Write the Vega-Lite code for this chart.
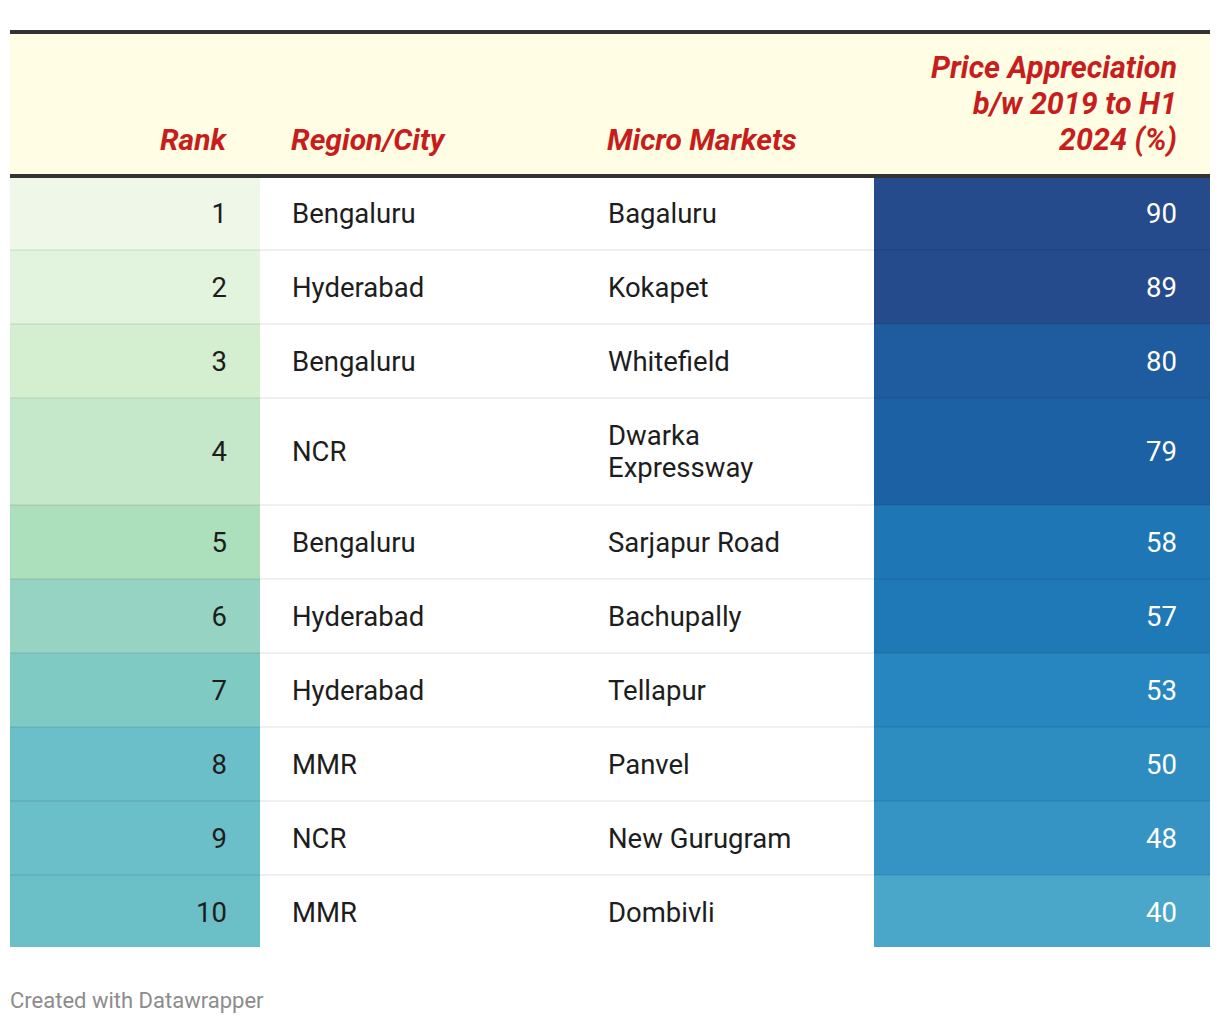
{
  "$schema": "https://vega.github.io/schema/vega-lite/v6.json",
  "background": "white",
  "padding": {"top": 30, "left": 8, "right": 8, "bottom": 10},
  "spacing": 0,
  "bounds": "flush",
  "title": {"text": "Created with Datawrapper", "orient": "bottom", "anchor": "start", "font": "Roboto", "fontSize": 22, "fontWeight": "normal", "color": "#8c8c8c", "offset": 44, "dx": 2},
  "config": {"view": {"stroke": null}, "concat": {"spacing": 0}},
  "datasets": {
    "rows": [
      {"rank": 1, "city": "Bengaluru", "market": "Bagaluru", "value": 90},
      {"rank": 2, "city": "Hyderabad", "market": "Kokapet", "value": 89},
      {"rank": 3, "city": "Bengaluru", "market": "Whitefield", "value": 80},
      {"rank": 4, "city": "NCR", "market": "Dwarka\nExpressway", "value": 79},
      {"rank": 5, "city": "Bengaluru", "market": "Sarjapur Road", "value": 58},
      {"rank": 6, "city": "Hyderabad", "market": "Bachupally", "value": 57},
      {"rank": 7, "city": "Hyderabad", "market": "Tellapur", "value": 53},
      {"rank": 8, "city": "MMR", "market": "Panvel", "value": 50},
      {"rank": 9, "city": "NCR", "market": "New Gurugram", "value": 48},
      {"rank": 10, "city": "MMR", "market": "Dombivli", "value": 40}
    ],
    "one": [{}]
  },
  "hconcat": [
    {
      "width": 250, "height": 915,
      "layer": [
        {"data": {"name": "one"}, "mark": {"type": "rect", "fill": "#fffee5"},
         "encoding": {"x": {"datum": 0, "type": "quantitative", "scale": {"domain": [0, 1], "nice": false}, "axis": null}, "x2": {"datum": 1},
                      "y": {"datum": -1.946, "type": "quantitative", "scale": {"domain": [-1.946, 10.42], "reverse": true, "nice": false, "zero": false}, "axis": null}, "y2": {"datum": 0}}},
        {"data": {"name": "rows"},
         "transform": [
           {"calculate": "length(split(datum.market, '\\n'))", "as": "nlines"},
           {"calculate": "1 + 0.446*(datum.nlines-1)", "as": "h"},
           {"window": [{"op": "sum", "field": "h", "as": "y1"}], "sort": [{"field": "rank"}], "frame": [null, 0]},
           {"calculate": "datum.y1 - datum.h", "as": "y0"},
           {"calculate": "min(datum.y1, 10.42)", "as": "y1c"},
           {"calculate": "datum.y1 - datum.h/2", "as": "ym"}
         ],
         "layer": [
           {"mark": {"type": "rect"},
            "encoding": {"x": {"datum": 0, "type": "quantitative"}, "x2": {"datum": 1},
                         "y": {"field": "y0", "type": "quantitative"}, "y2": {"field": "y1c"},
                         "fill": {"field": "rank", "type": "ordinal", "legend": null,
                                  "scale": {"domain": [1,2,3,4,5,6,7,8,9,10], "range": ["#eef7e8","#e2f4dd","#d4eed0","#c5e8ca","#acdfbb","#97d3c2","#7fcac3","#6bbfc8","#6bbfc8","#6bbfc7"]}}}},
           {"transform": [{"filter": "datum.rank < 10"}], "mark": {"type": "rule", "stroke": "#000", "strokeOpacity": 0.08, "strokeWidth": 1.5},
            "encoding": {"x": {"datum": 0, "type": "quantitative"}, "x2": {"datum": 1}, "y": {"field": "y1", "type": "quantitative"}}},
           {"mark": {"type": "text", "align": "right", "baseline": "middle", "dx": -33, "dy": 2, "font": "Roboto", "fontSize": 27.5, "color": "#1d1d1d"},
            "encoding": {"x": {"datum": 1, "type": "quantitative"}, "y": {"field": "ym", "type": "quantitative"}, "text": {"field": "rank", "type": "nominal"}}}
         ]},
        {"data": {"name": "one"}, "mark": {"type": "rule", "stroke": "#333333", "strokeWidth": 4},
         "encoding": {"x": {"datum": 0, "type": "quantitative"}, "x2": {"datum": 1}, "y": {"datum": -1.946, "type": "quantitative"}}},
        {"data": {"name": "one"}, "mark": {"type": "rule", "stroke": "#333333", "strokeWidth": 4},
         "encoding": {"x": {"datum": 0, "type": "quantitative"}, "x2": {"datum": 1}, "y": {"datum": 0, "type": "quantitative"}}},
        {"data": {"name": "one"}, "mark": {"type": "text", "text": "Rank", "align": "right", "baseline": "alphabetic", "dx": -34, "font": "Roboto", "fontSize": 30, "fontWeight": "bold", "fontStyle": "italic", "color": "#c71e1d"},
         "encoding": {"x": {"datum": 1, "type": "quantitative"}, "y": {"datum": -0.351, "type": "quantitative"}}}
      ]
    },
    {
      "width": 315, "height": 915,
      "layer": [
        {"data": {"name": "one"}, "mark": {"type": "rect", "fill": "#fffee5"},
         "encoding": {"x": {"datum": 0, "type": "quantitative", "scale": {"domain": [0, 1], "nice": false}, "axis": null}, "x2": {"datum": 1},
                      "y": {"datum": -1.946, "type": "quantitative", "scale": {"domain": [-1.946, 10.42], "reverse": true, "nice": false, "zero": false}, "axis": null}, "y2": {"datum": 0}}},
        {"data": {"name": "rows"},
         "transform": [
           {"calculate": "length(split(datum.market, '\\n'))", "as": "nlines"},
           {"calculate": "1 + 0.446*(datum.nlines-1)", "as": "h"},
           {"window": [{"op": "sum", "field": "h", "as": "y1"}], "sort": [{"field": "rank"}], "frame": [null, 0]},
           {"calculate": "datum.y1 - datum.h/2", "as": "ym"}
         ],
         "layer": [
           {"transform": [{"filter": "datum.rank < 10"}], "mark": {"type": "rule", "stroke": "#000", "strokeOpacity": 0.08, "strokeWidth": 1.5},
            "encoding": {"x": {"datum": 0, "type": "quantitative"}, "x2": {"datum": 1}, "y": {"field": "y1", "type": "quantitative"}}},
           {"mark": {"type": "text", "align": "left", "baseline": "middle", "dx": 32, "dy": 2, "font": "Roboto", "fontSize": 27.5, "color": "#1d1d1d"},
            "encoding": {"x": {"datum": 0, "type": "quantitative"}, "y": {"field": "ym", "type": "quantitative"}, "text": {"field": "city", "type": "nominal"}}}
         ]},
        {"data": {"name": "one"}, "mark": {"type": "rule", "stroke": "#333333", "strokeWidth": 4},
         "encoding": {"x": {"datum": 0, "type": "quantitative"}, "x2": {"datum": 1}, "y": {"datum": -1.946, "type": "quantitative"}}},
        {"data": {"name": "one"}, "mark": {"type": "rule", "stroke": "#333333", "strokeWidth": 4},
         "encoding": {"x": {"datum": 0, "type": "quantitative"}, "x2": {"datum": 1}, "y": {"datum": 0, "type": "quantitative"}}},
        {"data": {"name": "one"}, "mark": {"type": "text", "text": "Region/City", "align": "left", "baseline": "alphabetic", "dx": 31, "font": "Roboto", "fontSize": 30, "fontWeight": "bold", "fontStyle": "italic", "color": "#c71e1d"},
         "encoding": {"x": {"datum": 0, "type": "quantitative"}, "y": {"datum": -0.351, "type": "quantitative"}}}
      ]
    },
    {
      "width": 299, "height": 915,
      "layer": [
        {"data": {"name": "one"}, "mark": {"type": "rect", "fill": "#fffee5"},
         "encoding": {"x": {"datum": 0, "type": "quantitative", "scale": {"domain": [0, 1], "nice": false}, "axis": null}, "x2": {"datum": 1},
                      "y": {"datum": -1.946, "type": "quantitative", "scale": {"domain": [-1.946, 10.42], "reverse": true, "nice": false, "zero": false}, "axis": null}, "y2": {"datum": 0}}},
        {"data": {"name": "rows"},
         "transform": [
           {"calculate": "length(split(datum.market, '\\n'))", "as": "nlines"},
           {"calculate": "1 + 0.446*(datum.nlines-1)", "as": "h"},
           {"window": [{"op": "sum", "field": "h", "as": "y1"}], "sort": [{"field": "rank"}], "frame": [null, 0]},
           {"calculate": "datum.y1 - datum.h/2 - 0.216*(datum.nlines-1)", "as": "ytext"}
         ],
         "layer": [
           {"transform": [{"filter": "datum.rank < 10"}], "mark": {"type": "rule", "stroke": "#000", "strokeOpacity": 0.08, "strokeWidth": 1.5},
            "encoding": {"x": {"datum": 0, "type": "quantitative"}, "x2": {"datum": 1}, "y": {"field": "y1", "type": "quantitative"}}},
           {"mark": {"type": "text", "align": "left", "baseline": "middle", "dx": 33, "dy": 2, "font": "Roboto", "fontSize": 27.5, "lineHeight": 32, "lineBreak": "\n", "color": "#1d1d1d"},
            "encoding": {"x": {"datum": 0, "type": "quantitative"}, "y": {"field": "ytext", "type": "quantitative"}, "text": {"field": "market", "type": "nominal"}}}
         ]},
        {"data": {"name": "one"}, "mark": {"type": "rule", "stroke": "#333333", "strokeWidth": 4},
         "encoding": {"x": {"datum": 0, "type": "quantitative"}, "x2": {"datum": 1}, "y": {"datum": -1.946, "type": "quantitative"}}},
        {"data": {"name": "one"}, "mark": {"type": "rule", "stroke": "#333333", "strokeWidth": 4},
         "encoding": {"x": {"datum": 0, "type": "quantitative"}, "x2": {"datum": 1}, "y": {"datum": 0, "type": "quantitative"}}},
        {"data": {"name": "one"}, "mark": {"type": "text", "text": "Micro Markets", "align": "left", "baseline": "alphabetic", "dx": 32, "font": "Roboto", "fontSize": 30, "fontWeight": "bold", "fontStyle": "italic", "color": "#c71e1d"},
         "encoding": {"x": {"datum": 0, "type": "quantitative"}, "y": {"datum": -0.351, "type": "quantitative"}}}
      ]
    },
    {
      "width": 336, "height": 915,
      "layer": [
        {"data": {"name": "one"}, "mark": {"type": "rect", "fill": "#fffee5"},
         "encoding": {"x": {"datum": 0, "type": "quantitative", "scale": {"domain": [0, 1], "nice": false}, "axis": null}, "x2": {"datum": 1},
                      "y": {"datum": -1.946, "type": "quantitative", "scale": {"domain": [-1.946, 10.42], "reverse": true, "nice": false, "zero": false}, "axis": null}, "y2": {"datum": 0}}},
        {"data": {"name": "rows"},
         "transform": [
           {"calculate": "length(split(datum.market, '\\n'))", "as": "nlines"},
           {"calculate": "1 + 0.446*(datum.nlines-1)", "as": "h"},
           {"window": [{"op": "sum", "field": "h", "as": "y1"}], "sort": [{"field": "rank"}], "frame": [null, 0]},
           {"calculate": "datum.y1 - datum.h", "as": "y0"},
           {"calculate": "min(datum.y1, 10.42)", "as": "y1c"},
           {"calculate": "datum.y1 - datum.h/2", "as": "ym"}
         ],
         "layer": [
           {"mark": {"type": "rect"},
            "encoding": {"x": {"datum": 0, "type": "quantitative"}, "x2": {"datum": 1},
                         "y": {"field": "y0", "type": "quantitative"}, "y2": {"field": "y1c"},
                         "fill": {"field": "value", "type": "quantitative", "legend": null,
                                  "scale": {"type": "linear", "domain": [40,48,50,53,57,58,79,80,89,90], "range": ["#4ba7ca","#3594c3","#2d8dc1","#2785bf","#1f79b6","#1e76b4","#1b61a4","#1f5b9f","#264b8c","#264b8c"]}}}},
           {"transform": [{"filter": "datum.rank < 10"}], "mark": {"type": "rule", "stroke": "#000", "strokeOpacity": 0.08, "strokeWidth": 1.5},
            "encoding": {"x": {"datum": 0, "type": "quantitative"}, "x2": {"datum": 1}, "y": {"field": "y1", "type": "quantitative"}}},
           {"mark": {"type": "text", "align": "right", "baseline": "middle", "dx": -33, "dy": 2, "font": "Roboto", "fontSize": 27.5, "color": "#ffffff"},
            "encoding": {"x": {"datum": 1, "type": "quantitative"}, "y": {"field": "ym", "type": "quantitative"}, "text": {"field": "value", "type": "nominal"}}}
         ]},
        {"data": {"name": "one"}, "mark": {"type": "rule", "stroke": "#333333", "strokeWidth": 4},
         "encoding": {"x": {"datum": 0, "type": "quantitative"}, "x2": {"datum": 1}, "y": {"datum": -1.946, "type": "quantitative"}}},
        {"data": {"name": "one"}, "mark": {"type": "rule", "stroke": "#333333", "strokeWidth": 4},
         "encoding": {"x": {"datum": 0, "type": "quantitative"}, "x2": {"datum": 1}, "y": {"datum": 0, "type": "quantitative"}}},
        {"data": {"name": "one"}, "mark": {"type": "text", "text": ["Price Appreciation", "b/w 2019 to H1", "2024 (%)"], "align": "right", "baseline": "alphabetic", "dx": -33, "lineHeight": 36, "font": "Roboto", "fontSize": 30.5, "fontWeight": "bold", "fontStyle": "italic", "color": "#c71e1d"},
         "encoding": {"x": {"datum": 1, "type": "quantitative"}, "y": {"datum": -1.324, "type": "quantitative"}}}
      ]
    }
  ]
}
